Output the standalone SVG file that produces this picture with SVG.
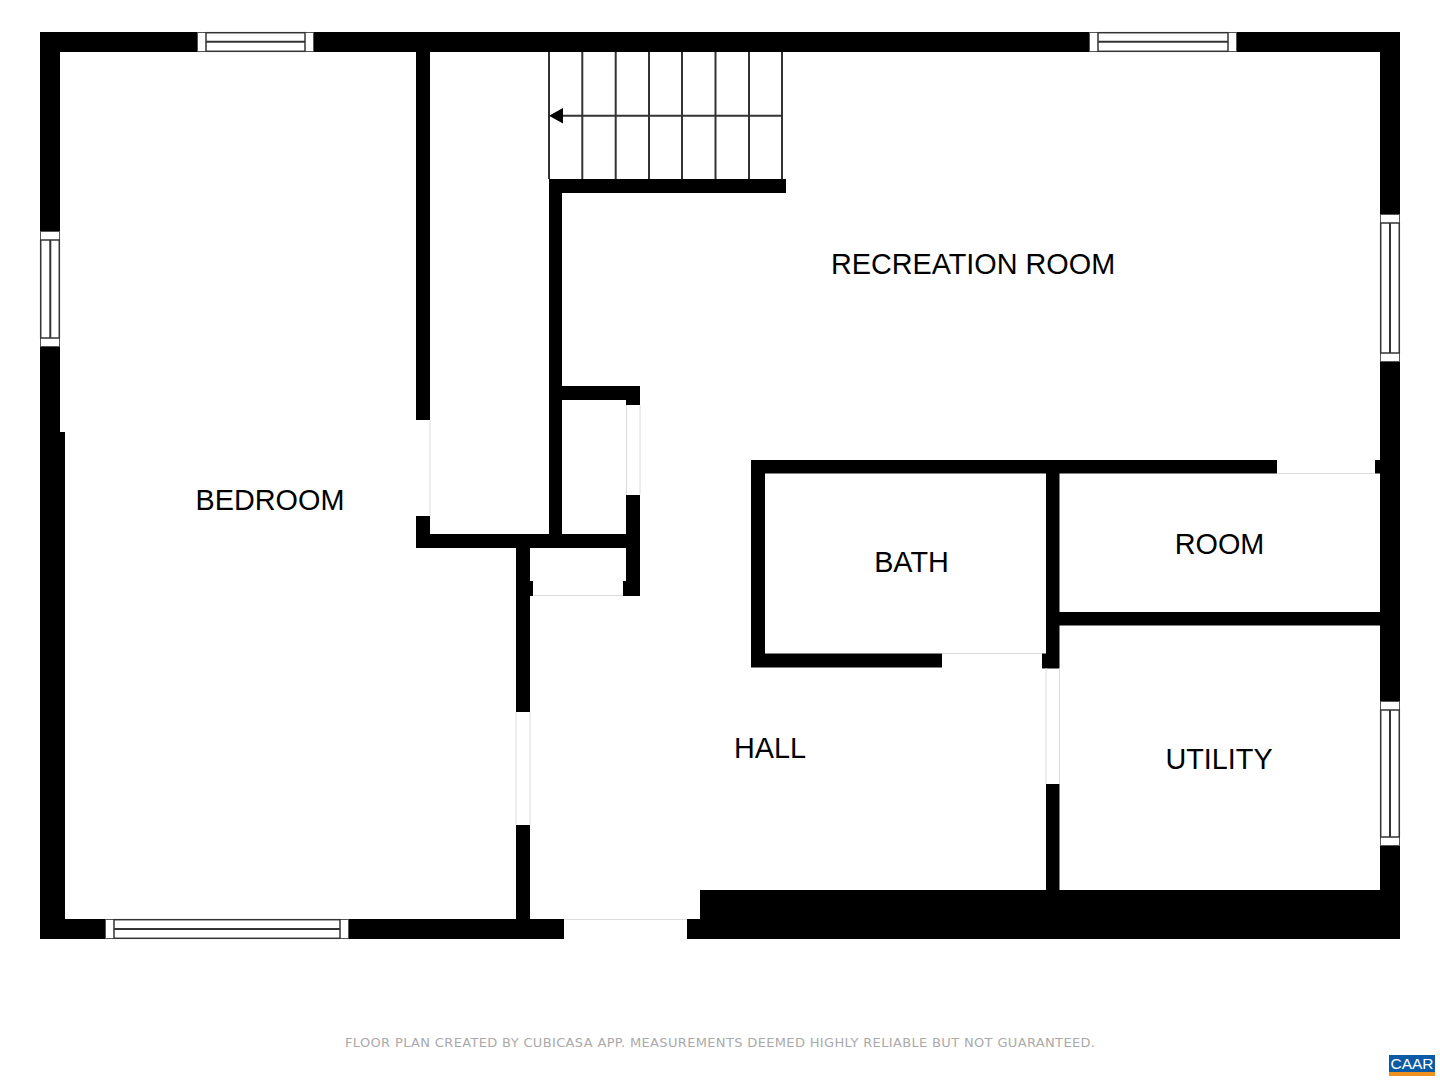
<svg xmlns="http://www.w3.org/2000/svg" width="1440" height="1080" viewBox="0 0 1440 1080">
<style>
.w{fill:#000}
.cap{fill:#fff;stroke:#555;stroke-width:1}
.f{fill:#fff;stroke:#333;stroke-width:1.500}
.s{stroke:#333;stroke-width:2;fill:none}
.d{stroke:#dcdcdc;stroke-width:1;fill:none}
.t{font-family:"Liberation Sans",Arial,sans-serif;font-size:28.800px;fill:#000;text-anchor:middle}
</style>
<rect width="1440" height="1080" fill="#fff"/>
<g id="walls" class="w">
<rect x="40" y="32" width="1360" height="20"/>
<rect x="40" y="32" width="20" height="400"/>
<rect x="40" y="432" width="25" height="507"/>
<rect x="1380" y="32" width="20" height="858"/>
<rect x="40" y="919" width="524" height="20"/>
<rect x="687" y="919" width="713" height="20"/>
<rect x="700" y="890" width="700" height="30"/>
<rect x="416" y="52" width="14" height="368"/>
<rect x="416" y="516" width="14" height="32"/>
<rect x="416" y="534" width="224" height="14"/>
<rect x="549" y="179" width="13" height="369"/>
<rect x="549" y="179" width="237" height="14"/>
<rect x="549" y="386" width="91" height="14"/>
<rect x="626" y="386" width="14" height="19"/>
<rect x="626" y="495" width="14" height="101"/>
<rect x="623" y="581" width="17" height="15"/>
<rect x="516" y="548" width="14" height="164"/>
<rect x="516" y="581" width="17" height="15"/>
<rect x="516" y="825" width="14" height="114"/>
<rect x="751" y="460" width="526" height="13.500"/>
<rect x="1375" y="460" width="25" height="13.500"/>
<rect x="751" y="460" width="14" height="207"/>
<rect x="751" y="653.500" width="191" height="14"/>
<rect x="1046" y="460" width="13.500" height="208"/>
<rect x="1042" y="653.500" width="17" height="15"/>
<rect x="1046" y="784" width="13.500" height="140"/>
<rect x="1046" y="612" width="354" height="13.500"/>
</g>
<g id="doors">
<path class="d" d="M430 420V516M626.500 405V495M640 405V495M533 595.500H623M516 712V825M530 712V825M564 919.500H687M942 653.500H1042M1046 668V784M1059.500 668V784M1277 473.500H1375"/>
</g>
<g id="windows">
<g id="window-top-left">
<rect class="cap" x="197.500" y="32.500" width="116" height="19"/>
<rect class="f" x="206" y="32.700" width="99" height="18.600"/>
<path class="s" d="M206 41.800H305"/>
</g>
<g id="window-top-right">
<rect class="cap" x="1089.500" y="32.500" width="147" height="19"/>
<rect class="f" x="1098" y="32.700" width="130" height="18.600"/>
<path class="s" d="M1098 41.800H1228"/>
</g>
<g id="window-left">
<rect class="cap" x="40.500" y="231.500" width="19" height="115"/>
<rect class="f" x="40.700" y="240" width="18.600" height="98"/>
<path class="s" d="M50.300 240V338"/>
</g>
<g id="window-bottom">
<rect class="cap" x="105.500" y="919.500" width="243" height="19"/>
<rect class="f" x="114" y="919.700" width="226" height="18.600"/>
<path class="s" d="M114 929H340"/>
</g>
<g id="window-right-top">
<rect class="cap" x="1380.500" y="214.500" width="19" height="147"/>
<rect class="f" x="1380.700" y="223" width="18.600" height="130"/>
<path class="s" d="M1390 223V353"/>
</g>
<g id="window-right-bottom">
<rect class="cap" x="1380.500" y="701.500" width="19" height="144"/>
<rect class="f" x="1380.700" y="710" width="18.600" height="127"/>
<path class="s" d="M1390 710V837"/>
</g>
</g>
<g id="stairs">
<path class="s" d="M549 52V179M582.300 52V179M615.700 52V179M649 52V179M682 52V179M715.500 52V179M749 52V179M782 52V179"/>
<path class="s" d="M560 115.700H782"/>
<polygon points="549,115.700 563,108 563,123.500" fill="#000"/>
</g>
<g id="labels">
<text class="t" x="973" y="274">RECREATION ROOM</text>
<text class="t" x="270" y="510">BEDROOM</text>
<text class="t" x="911.500" y="572">BATH</text>
<text class="t" x="1219.500" y="553.500">ROOM</text>
<text class="t" x="770" y="757.500">HALL</text>
<text class="t" x="1219" y="769">UTILITY</text>
<text x="720" y="1047" text-anchor="middle" font-family="'DejaVu Sans',Verdana,sans-serif" font-size="13" fill="#aaa" textLength="750" lengthAdjust="spacing">FLOOR PLAN CREATED BY CUBICASA APP. MEASUREMENTS DEEMED HIGHLY RELIABLE BUT NOT GUARANTEED.</text>
</g>
<g id="logo">
<rect x="1389" y="1055" width="46" height="17" fill="#0b5aa6"/>
<rect x="1389" y="1072" width="46" height="4" fill="#f0901e"/>
<text x="1412" y="1069" text-anchor="middle" font-family="'Liberation Sans',Arial,sans-serif" font-size="15.500" fill="#fff">CAAR</text>
</g>
</svg>
